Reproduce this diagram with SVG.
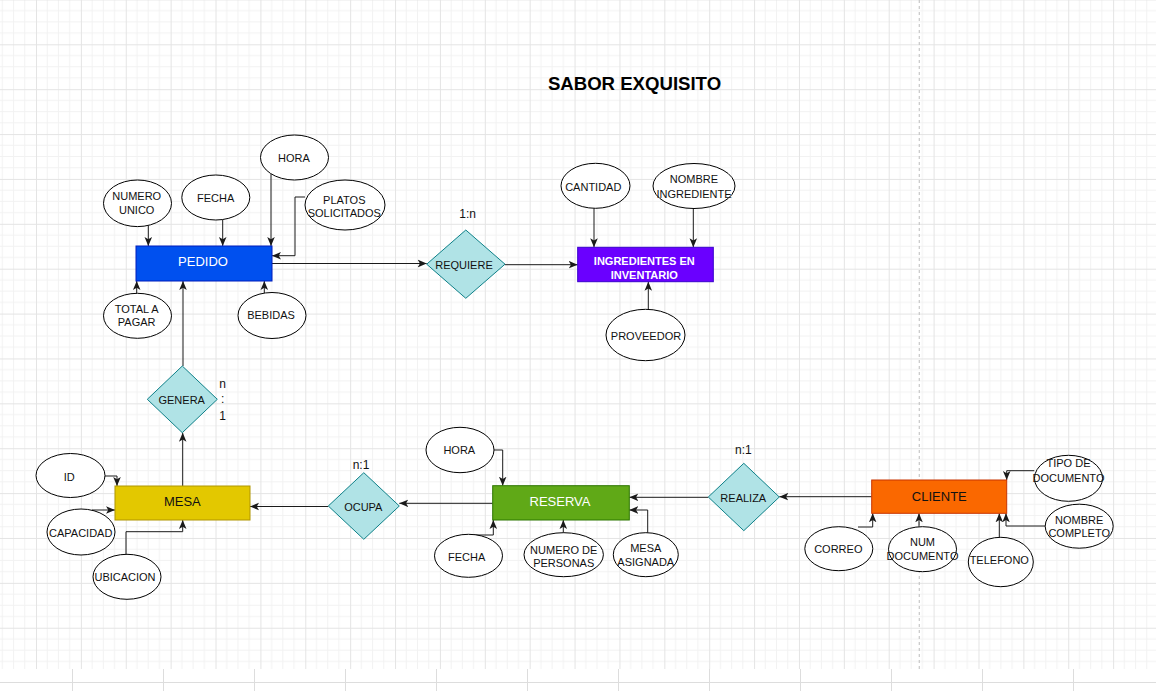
<svg xmlns="http://www.w3.org/2000/svg" width="1156" height="691" viewBox="0 0 1156 691">
  <defs>
    <pattern id="grid" patternUnits="userSpaceOnUse" x="36" y="44.3" width="44.88" height="44.88">
      <path d="M11.22,0 V44.88 M22.44,0 V44.88 M33.66,0 V44.88 M0,11.22 H44.88 M0,22.44 H44.88 M0,33.66 H44.88" stroke="#f2f2f2" stroke-width="1" fill="none"/>
      <path d="M0.5,0 V44.88 M0,0.5 H44.88" stroke="#e4e4e4" stroke-width="1" fill="none"/>
    </pattern>
    <marker id="arr" viewBox="0 0 10 10" refX="10" refY="5" markerWidth="9" markerHeight="9" markerUnits="userSpaceOnUse" orient="auto">
      <path d="M0,0.8 L10,5 L0,9.2 L2.5,5 z" fill="#1a1a1a"/>
    </marker>
    <style>
      .lbl { font-family: "Liberation Sans", Arial, sans-serif; font-size: 11px; fill: #111; text-anchor: middle; }
      .big { font-family: "Liberation Sans", Arial, sans-serif; font-size: 13px; text-anchor: middle; }
      .card { font-family: "Liberation Sans", Arial, sans-serif; font-size: 12px; fill: #111; text-anchor: middle; }
      .attr { fill: #ffffff; stroke: #000000; stroke-width: 1; }
      .rel { fill: #b0e3e6; stroke: #0e8088; stroke-width: 1; }
      .edge { fill: none; stroke: #1a1a1a; stroke-width: 1; marker-end: url(#arr); }
    </style>
  </defs>

  <!-- canvas background -->
  <rect x="0" y="0" width="1156" height="691" fill="#ffffff"/>
  <rect x="0" y="0" width="1156" height="669" fill="url(#grid)"/>
  <line x1="919.3" y1="0" x2="919.3" y2="669" stroke="#c8c8c8" stroke-width="1.2" stroke-dasharray="3 3"/>

  <!-- bottom sheet tab strip -->
  <g stroke="#dddddd" stroke-width="1">
    <line x1="0" y1="682.5" x2="1156" y2="682.5"/>
    <path d="M72.5,669 V691 M163.5,669 V691 M254.5,669 V691 M345.5,669 V691 M436.5,669 V691 M527.5,669 V691 M618.5,669 V691 M709.5,669 V691 M800.5,669 V691 M891.5,669 V691 M982.5,669 V691 M1073.5,669 V691"/>
  </g>

  <!-- title -->
  <text x="634.5" y="89.5" font-family="Liberation Sans, Arial, sans-serif" font-size="18.6" font-weight="bold" text-anchor="middle" fill="#000">SABOR EXQUISITO</text>

  <!-- connectors -->
  <g id="connectors">
    <path class="edge" d="M148.3,225.4 V246"/>
    <path class="edge" d="M222.7,219.5 V246"/>
    <path class="edge" d="M271,174 V246"/>
    <path class="edge" d="M305,197 H295 V255.7 H272"/>
    <path class="edge" d="M136.7,293.3 V281"/>
    <path class="edge" d="M264.3,293.1 V281"/>
    <path class="edge" d="M183,366 V281"/>
    <path class="edge" d="M272,263.5 H426.7"/>
    <path class="edge" d="M505,264.7 H577.7"/>
    <path class="edge" d="M594,208.3 V247.3"/>
    <path class="edge" d="M693.3,208.5 V247.3"/>
    <path class="edge" d="M648.3,309.5 V281.7"/>
    <path class="edge" d="M182.7,486 V432.7"/>
    <path class="edge" d="M104.5,476 H117 V486"/>
    <path class="edge" d="M92,510 H115"/>
    <path class="edge" d="M126,554.3 V531.7 H182.7 V520"/>
    <path class="edge" d="M328.3,506.5 H250"/>
    <path class="edge" d="M492.7,503.3 H399.3"/>
    <path class="edge" d="M494,450 H502.7 V485.7"/>
    <path class="edge" d="M474,535 H493.3 V520"/>
    <path class="edge" d="M563.3,532.7 V520"/>
    <path class="edge" d="M647.7,532.7 V510 H629.3"/>
    <path class="edge" d="M708.3,497.3 H629.3"/>
    <path class="edge" d="M871.7,496.7 H779.3"/>
    <path class="edge" d="M1034.3,470.7 H1006.7 V480"/>
    <path class="edge" d="M1045,526 H1006 V513.3"/>
    <path class="edge" d="M999.3,537.3 V513.3"/>
    <path class="edge" d="M919,526.7 V513.3"/>
    <path class="edge" d="M858,527 H872.7 V513.3"/>
  </g>

  <!-- PEDIDO entity and attributes -->
  <g id="pedido">
    <rect x="136" y="246" width="136" height="35" fill="#0050ef" stroke="#001dbc"/>
    <text class="big" x="203" y="266" fill="#ffffff">PEDIDO</text>
  </g>
  <g id="pedido-numero-unico">
    <ellipse class="attr" cx="137.5" cy="203.3" rx="34" ry="23.3"/>
    <text class="lbl" x="136.7" y="200">NUMERO</text>
    <text class="lbl" x="136.7" y="213.5">UNICO</text>
  </g>
  <g id="pedido-fecha">
    <ellipse class="attr" cx="215.8" cy="197.5" rx="34" ry="22.5"/>
    <text class="lbl" x="215.7" y="201.5">FECHA</text>
  </g>
  <g id="pedido-hora">
    <ellipse class="attr" cx="294.5" cy="157.5" rx="34" ry="22.5"/>
    <text class="lbl" x="294" y="162">HORA</text>
  </g>
  <g id="pedido-platos">
    <ellipse class="attr" cx="345" cy="205" rx="40" ry="25"/>
    <text class="lbl" x="344.3" y="204">PLATOS</text>
    <text class="lbl" x="344.3" y="217">SOLICITADOS</text>
  </g>
  <g id="pedido-total">
    <ellipse class="attr" cx="137.5" cy="315.8" rx="34" ry="22.5"/>
    <text class="lbl" x="136.7" y="312.5">TOTAL A</text>
    <text class="lbl" x="136.7" y="326">PAGAR</text>
  </g>
  <g id="pedido-bebidas">
    <ellipse class="attr" cx="272" cy="315.5" rx="34" ry="23"/>
    <text class="lbl" x="271" y="319">BEBIDAS</text>
  </g>

  <!-- REQUIERE relation -->
  <g id="requiere">
    <polygon class="rel" points="465.8,230 505,264.2 465.8,298.3 426.7,264.2"/>
    <text class="lbl" x="464" y="269">REQUIERE</text>
    <text class="card" x="467.7" y="218.3">1:n</text>
  </g>

  <!-- INGREDIENTES EN INVENTARIO entity and attributes -->
  <g id="ingredientes">
    <rect x="577.7" y="247.3" width="135.6" height="34.4" fill="#6a00ff" stroke="#3700cc"/>
    <text class="lbl" x="644.3" y="265" style="fill:#ffffff;font-weight:bold">INGREDIENTES EN</text>
    <text class="lbl" x="644.3" y="279" style="fill:#ffffff;font-weight:bold">INVENTARIO</text>
  </g>
  <g id="ingredientes-cantidad">
    <ellipse class="attr" cx="595.5" cy="185.8" rx="34.5" ry="22.5"/>
    <text class="lbl" x="593.3" y="190.5">CANTIDAD</text>
  </g>
  <g id="ingredientes-nombre">
    <ellipse class="attr" cx="694" cy="186" rx="41" ry="22.5"/>
    <text class="lbl" x="694" y="183.3">NOMBRE</text>
    <text class="lbl" x="694" y="197.5">INGREDIENTE</text>
  </g>
  <g id="ingredientes-proveedor">
    <ellipse class="attr" cx="645.5" cy="335" rx="39.5" ry="25.7"/>
    <text class="lbl" x="646" y="340">PROVEEDOR</text>
  </g>

  <!-- GENERA relation -->
  <g id="genera">
    <polygon class="rel" points="182.3,366 217.3,399.3 182.3,432.7 147.3,399.3"/>
    <text class="lbl" x="181.7" y="404">GENERA</text>
    <text class="card" x="222.7" y="387.5">n</text>
    <text class="card" x="222.7" y="403">:</text>
    <text class="card" x="222.7" y="420">1</text>
  </g>

  <!-- MESA entity and attributes -->
  <g id="mesa">
    <rect x="115" y="486" width="135" height="34" fill="#e3c800" stroke="#b09500"/>
    <text class="big" x="182.3" y="506" fill="#111111">MESA</text>
  </g>
  <g id="mesa-id">
    <ellipse class="attr" cx="70.5" cy="475.5" rx="34.5" ry="22"/>
    <text class="lbl" x="69.3" y="480.5">ID</text>
  </g>
  <g id="mesa-capacidad">
    <ellipse class="attr" cx="81" cy="532" rx="34" ry="23"/>
    <text class="lbl" x="80.7" y="536.5">CAPACIDAD</text>
  </g>
  <g id="mesa-ubicacion">
    <ellipse class="attr" cx="127" cy="576.8" rx="34" ry="22.5"/>
    <text class="lbl" x="125" y="581">UBICACION</text>
  </g>

  <!-- OCUPA relation -->
  <g id="ocupa">
    <polygon class="rel" points="363.8,472.7 399.3,506 363.8,539.3 328.3,506"/>
    <text class="lbl" x="363.3" y="510.5">OCUPA</text>
    <text class="card" x="361" y="468.5">n:1</text>
  </g>

  <!-- RESERVA entity and attributes -->
  <g id="reserva">
    <rect x="492.7" y="485.7" width="136.6" height="34.3" fill="#60a917" stroke="#2d7600"/>
    <text class="big" x="560" y="506" fill="#ffffff">RESERVA</text>
  </g>
  <g id="reserva-hora">
    <ellipse class="attr" cx="460" cy="450" rx="34" ry="22.7"/>
    <text class="lbl" x="459.3" y="454">HORA</text>
  </g>
  <g id="reserva-fecha">
    <ellipse class="attr" cx="468.5" cy="555.8" rx="34" ry="21.5"/>
    <text class="lbl" x="466.7" y="560.5">FECHA</text>
  </g>
  <g id="reserva-personas">
    <ellipse class="attr" cx="563.7" cy="554.7" rx="39.7" ry="22"/>
    <text class="lbl" x="563.7" y="554">NUMERO DE</text>
    <text class="lbl" x="563.7" y="567.3">PERSONAS</text>
  </g>
  <g id="reserva-mesa-asignada">
    <ellipse class="attr" cx="645.8" cy="554.7" rx="32.5" ry="22"/>
    <text class="lbl" x="645.8" y="552.3">MESA</text>
    <text class="lbl" x="645.8" y="565.7">ASIGNADA</text>
  </g>

  <!-- REALIZA relation -->
  <g id="realiza">
    <polygon class="rel" points="743.8,463.3 779.3,497 743.8,530.7 708.3,497"/>
    <text class="lbl" x="743.3" y="501.5">REALIZA</text>
    <text class="card" x="743.3" y="454">n:1</text>
  </g>

  <!-- CLIENTE entity and attributes -->
  <g id="cliente">
    <rect x="871.7" y="480" width="135" height="33.3" fill="#fa6800" stroke="#c73500"/>
    <text class="big" x="939.3" y="501" fill="#111111">CLIENTE</text>
  </g>
  <g id="cliente-tipo-documento">
    <ellipse class="attr" cx="1068.5" cy="478.3" rx="34" ry="23"/>
    <text class="lbl" x="1068.5" y="467.3">TIPO DE</text>
    <text class="lbl" x="1068.5" y="481.5">DOCUMENTO</text>
  </g>
  <g id="cliente-nombre-completo">
    <ellipse class="attr" cx="1079.2" cy="526.2" rx="34" ry="22"/>
    <text class="lbl" x="1079.2" y="524.3">NOMBRE</text>
    <text class="lbl" x="1079.2" y="536.7">COMPLETO</text>
  </g>
  <g id="cliente-telefono">
    <ellipse class="attr" cx="1000.8" cy="562" rx="32.5" ry="24.7"/>
    <text class="lbl" x="999.3" y="564.3">TELEFONO</text>
  </g>
  <g id="cliente-num-documento">
    <ellipse class="attr" cx="922.5" cy="549.2" rx="34" ry="22.5"/>
    <text class="lbl" x="922.5" y="545.7">NUM</text>
    <text class="lbl" x="922.5" y="560">DOCUMENTO</text>
  </g>
  <g id="cliente-correo">
    <ellipse class="attr" cx="838.8" cy="548.7" rx="34" ry="22"/>
    <text class="lbl" x="838.3" y="553.3">CORREO</text>
  </g>
</svg>
